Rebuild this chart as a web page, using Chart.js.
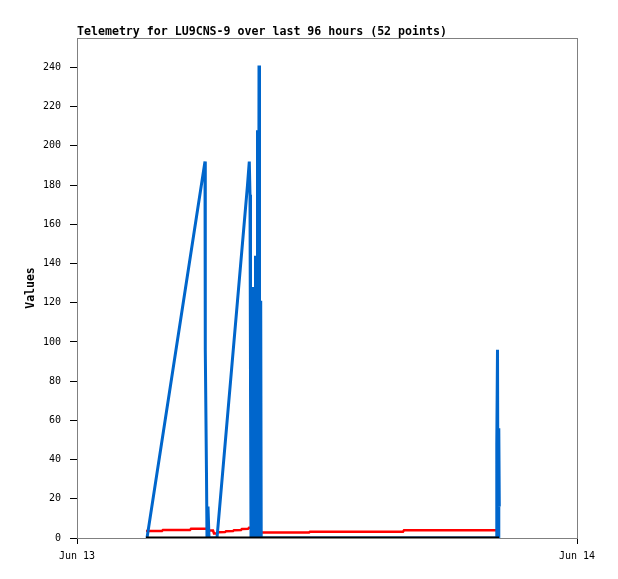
<!DOCTYPE html>
<html>
<head>
<meta charset="utf-8">
<script src="https://cdn.jsdelivr.net/npm/chart.js@4/dist/chart.umd.min.js"></script>
<style>
  body { margin: 0; background: #fff; }
  canvas { display: block; }
</style>
</head>
<body>
<canvas id="chart" width="618" height="579"></canvas>
<script>
// hours after Jun 13 00:00
const xTickValues = [0, 24];
const xTickLabels = ["Jun 13", "Jun 14"];
const yTickValues = [0, 20, 40, 60, 80, 100, 120, 140, 160, 180, 200, 220, 240];

const blueTimes = [3.36, 6.144, 6.158, 6.216, 6.24, 6.288, 6.336, 6.72, 8.184, 8.27, 8.304, 8.328,
    8.352, 8.376, 8.40, 8.424, 8.448, 8.472, 8.496, 8.52, 8.544, 8.568, 8.592, 8.616,
    8.64, 8.664, 8.698, 8.717, 8.736, 8.76, 8.784, 8.818, 8.842,
    20.136, 20.15, 20.184, 20.208, 20.246, 20.27];
const blueValues = [0, 192, 96, 32, 0, 16, 0, 0, 180, 192, 175, 80,
    0, 60, 128, 0, 50, 73, 0, 40, 0, 144, 0, 60,
    0, 208, 0, 50, 241, 0, 70, 121, 0,
    0, 48, 96, 0, 56, 16];

const redTimes = [3.312, 4.08, 4.128, 5.424, 5.472, 6.192, 6.336, 6.528, 6.576, 6.72, 6.768, 7.104,
    7.152, 7.488, 7.536, 7.872, 7.92, 8.208, 8.256, 8.448, 8.88, 11.136, 11.184, 15.648, 15.696, 20.256];
const redValues = [3.6, 3.6, 4.1, 4.1, 4.7, 4.7, 3.8, 3.8, 2.3, 2.3, 2.9, 3.0,
    3.4, 3.5, 4.0, 4.1, 4.6, 4.7, 5.2, 5.2, 2.8, 2.8, 3.2, 3.2, 3.9, 3.9];

const blackTimes = [3.312, 20.256];
const blackValues = [0, 0];

const toPoints = (xs, ys) => xs.map((x, i) => ({ x: x, y: ys[i] }));

const framePlugin = {
    id: "frame",
    beforeDatasetsDraw(chart) {
        const a = chart.chartArea;
        const ctx = chart.ctx;
        ctx.save();
        ctx.strokeStyle = "#808080";
        ctx.lineWidth = 1;
        ctx.strokeRect(a.left + 0.5, a.top + 0.5, a.right - a.left, a.bottom - a.top);
        ctx.restore();
    },
    afterDraw(chart) {
        const a = chart.chartArea;
        const ctx = chart.ctx;
        ctx.save();
        ctx.fillStyle = "#000";
        ctx.font = "bold 11.6px 'DejaVu Sans Mono'";
        ctx.textBaseline = "alphabetic";
        ctx.fillText("Telemetry for LU9CNS-9 over last 96 hours (52 points)", a.left, a.top - 3);
        ctx.restore();
    }
};

const lineStyle = {
    fill: false,
    pointRadius: 0,
    tension: 0,
    borderJoinStyle: "miter"
};

var chart = new Chart(document.getElementById("chart").getContext("2d"), {
    type: "line",
    data: {
        datasets: [{
            label: "black",
            data: toPoints(blackTimes, blackValues),
            borderColor: "#000000",
            borderWidth: 3,
            order: 0,
            ...lineStyle
        }, {
            label: "blue",
            data: toPoints(blueTimes, blueValues),
            borderColor: "#0066cc",
            borderWidth: 3,
            order: 1,
            ...lineStyle
        }, {
            label: "red",
            data: toPoints(redTimes, redValues),
            borderColor: "#ff0000",
            borderWidth: 2.5,
            order: 2,
            ...lineStyle
        }]
    },
    options: {
        responsive: false,
        animation: false,
        layout: { padding: { top: 38, left: 0, right: 41, bottom: 0 } },
        plugins: {
            legend: { display: false },
            tooltip: { enabled: false }
        },
        scales: {
            x: {
                type: "linear",
                min: 0,
                max: 24,
                afterBuildTicks: axis => { axis.ticks = xTickValues.map(v => ({ value: v })); },
                afterFit: axis => { axis.height = 41; },
                ticks: {
                    color: "#000",
                    font: { family: "DejaVu Sans Mono", size: 10 },
                    padding: 6,
                    maxRotation: 0,
                    callback: v => xTickLabels[xTickValues.indexOf(v)]
                },
                grid: { drawOnChartArea: false, tickLength: 6, color: "#000" },
                border: { color: "#000", width: 1 }
            },
            y: {
                type: "linear",
                min: 0,
                max: 255,
                afterBuildTicks: axis => { axis.ticks = yTickValues.map(v => ({ value: v })); },
                afterFit: axis => { axis.width = 77; },
                ticks: {
                    color: "#000",
                    font: { family: "DejaVu Sans Mono", size: 10 },
                    padding: 9
                },
                grid: { drawOnChartArea: false, tickLength: 7, color: "#000" },
                border: { color: "#000", width: 1 },
                title: {
                    display: true,
                    text: "Values",
                    color: "#000",
                    font: { family: "DejaVu Sans Mono", size: 11.5, weight: "bold" },
                    padding: { top: 24, bottom: 0 }
                }
            }
        }
    },
    plugins: [framePlugin]
});
</script>
</body>
</html>
